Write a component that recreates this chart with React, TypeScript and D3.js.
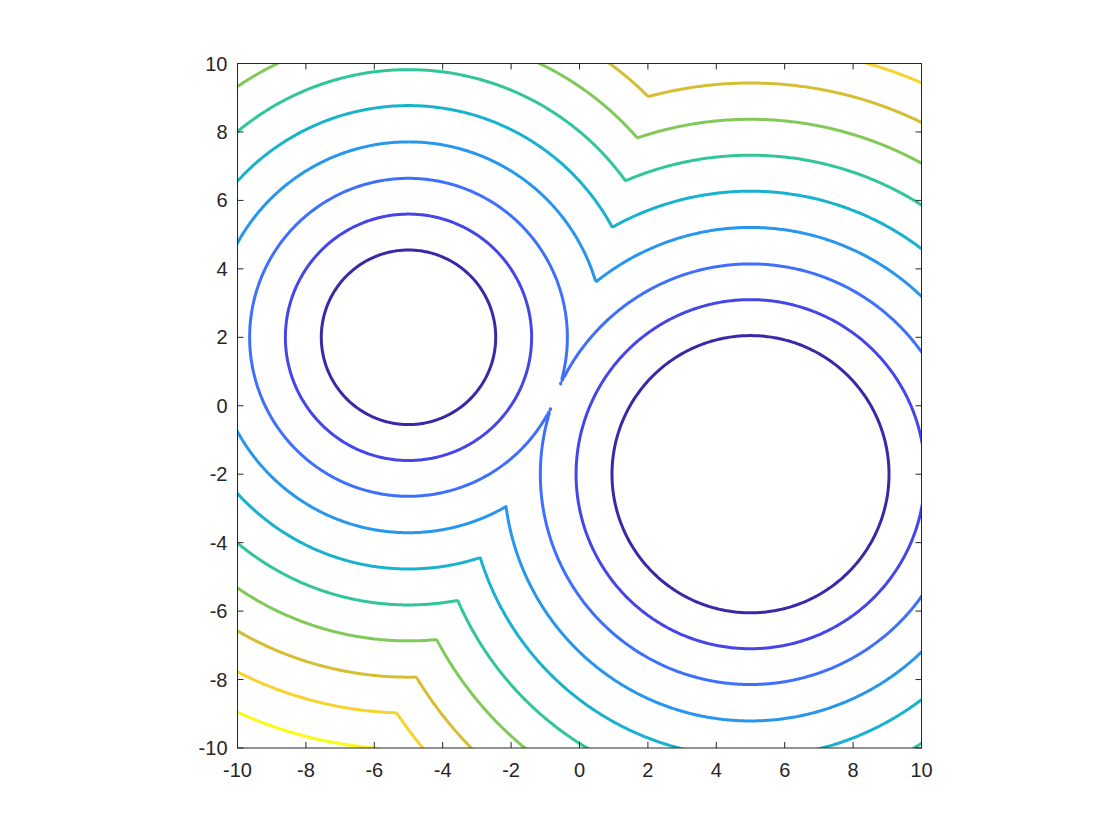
import * as d3 from 'd3'
import React, { useMemo } from 'react'

// two circles whose distance fields are merged with min()
const centerX = [-5, 5]
const centerY = [2, -2]
const radii = [2.5, 4]

// contour levels (field = distance to nearest circle edge)
const levels = [0.05, 1.1, 2.145, 3.21, 4.27, 5.32, 6.37, 7.43, 8.48, 9.54]

const xTicks = [-10, -8, -6, -4, -2, 0, 2, 4, 6, 8, 10]
const yTicks = [-10, -8, -6, -4, -2, 0, 2, 4, 6, 8, 10]

// parula colormap stops
const parula = [
  '#3e26a8', '#4741e5', '#4269fe', '#2d8cf3', '#1ca9df', '#12bdb9',
  '#4acb84', '#9dc943', '#e6bb2d', '#f9d62d', '#f9fb14'
]

const width = 1120
const height = 840
const plot = { left: 237.5, right: 921.5, top: 63.5, bottom: 748 }
const axisColor = '#262626'
const font = 'Helvetica, "Liberation Sans", Arial, sans-serif'

// sampling grid, a little wider than the axes so edge rings get clipped away
const gMin = -10.5
const gMax = 10.5
const step = 0.05

const App = () => {
  const x = d3.scaleLinear().domain([-10, 10]).range([plot.left, plot.right])
  const y = d3.scaleLinear().domain([-10, 10]).range([plot.bottom, plot.top])

  const color = d3
    .scaleLinear<string>()
    .domain(parula.map((_, i) => levels[0] + (i / (parula.length - 1)) * (levels[levels.length - 1] - levels[0])))
    .range(parula)
    .interpolate(d3.interpolateRgb)

  const paths = useMemo(() => {
    const n = Math.round((gMax - gMin) / step) + 1
    const values = new Float64Array(n * n)
    for (let j = 0; j < n; j++) {
      const py = gMax - j * step
      for (let i = 0; i < n; i++) {
        const px = gMin + i * step
        let f = Infinity
        for (let c = 0; c < radii.length; c++) {
          const d = Math.hypot(px - centerX[c], py - centerY[c]) - radii[c]
          if (d < f) f = d
        }
        values[j * n + i] = f
      }
    }
    const contours = d3.contours().size([n, n]).thresholds(levels)(Array.from(values))
    const proj = d3.geoTransform({
      point(cx: number, cy: number) {
        this.stream.point(x(gMin + (cx - 0.5) * step), y(gMax - (cy - 0.5) * step))
      }
    })
    const path = d3.geoPath(proj)
    return contours.map((c) => ({ value: c.value, d: path(c) || '' }))
  }, [])

  const tickLen = 6

  return (
    <svg width={ width } height={ height } style={ { position: 'absolute', left: 0, top: 0, background: '#fff' } }>
      <defs>
        <clipPath id='plot-clip'>
          <rect x={ plot.left } y={ plot.top } width={ plot.right - plot.left } height={ plot.bottom - plot.top } />
        </clipPath>
      </defs>
      <rect x={ 0 } y={ 0 } width={ width } height={ height } fill='#fff' />

      <g clipPath='url(#plot-clip)'>
        { paths.map((p, i) => (
          <path
            key={ i }
            d={ p.d }
            fill='none'
            stroke={ color(p.value) }
            strokeWidth={ 3 }
            strokeLinejoin='round'
            strokeLinecap='round'
          />
        )) }
      </g>

      {/* box */}
      <rect
        x={ plot.left }
        y={ plot.top }
        width={ plot.right - plot.left }
        height={ plot.bottom - plot.top }
        fill='none'
        stroke={ axisColor }
        strokeWidth={ 1 }
      />

      {/* x ticks, bottom and top, pointing inward */}
      { xTicks.map((t) => (
        <g key={ 'x' + t }>
          <line x1={ x(t) } x2={ x(t) } y1={ plot.bottom } y2={ plot.bottom - tickLen } stroke={ axisColor } />
          <line x1={ x(t) } x2={ x(t) } y1={ plot.top } y2={ plot.top + tickLen } stroke={ axisColor } />
          <text
            x={ x(t) }
            y={ plot.bottom + 29 }
            textAnchor='middle'
            fontFamily={ font }
            fontSize={ 20 }
            fill={ axisColor }
          >
            { t }
          </text>
        </g>
      )) }

      {/* y ticks, left and right */}
      { yTicks.map((t) => (
        <g key={ 'y' + t }>
          <line x1={ plot.left } x2={ plot.left + tickLen } y1={ y(t) } y2={ y(t) } stroke={ axisColor } />
          <line x1={ plot.right } x2={ plot.right - tickLen } y1={ y(t) } y2={ y(t) } stroke={ axisColor } />
          <text
            x={ plot.left - 10 }
            y={ y(t) + 7 }
            textAnchor='end'
            fontFamily={ font }
            fontSize={ 20 }
            fill={ axisColor }
          >
            { t }
          </text>
        </g>
      )) }
    </svg>
  )
}

export default App
